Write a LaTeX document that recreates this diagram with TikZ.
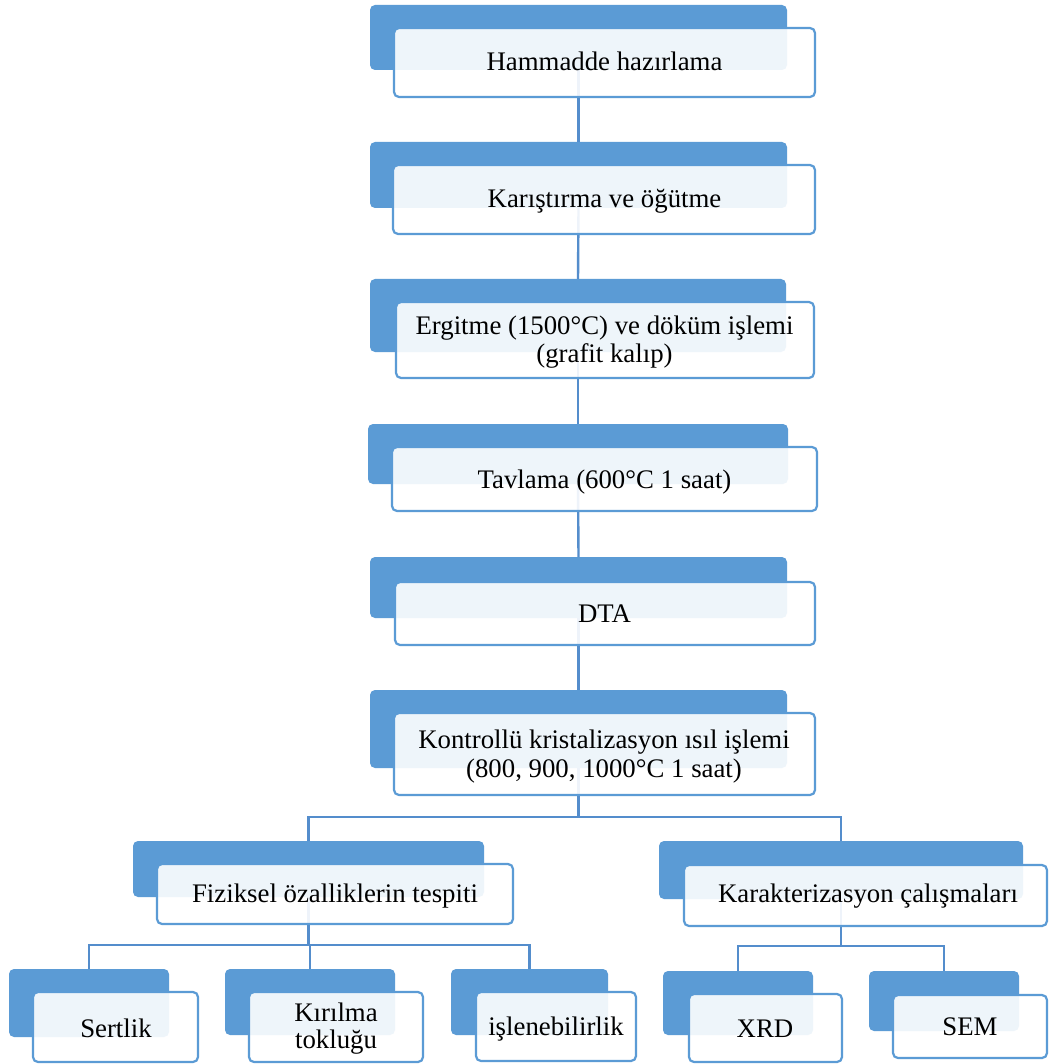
\documentclass[tikz,border=0pt]{standalone}
\usepackage{fontspec}
\setmainfont{Liberation Serif}
\usetikzlibrary{fit}
\definecolor{backblue}{RGB}{91,155,213}
\definecolor{edgeblue}{RGB}{91,155,213}
\definecolor{linkblue}{RGB}{84,141,204}
\tikzset{
  backbox/.style={fill=backblue, draw=none, rounded corners=5pt, inner sep=0pt, outer sep=0pt},
  frontbox/.style={draw=edgeblue, line width=2.2pt, fill=white, fill opacity=0.9, rounded corners=5pt, inner sep=0pt, outer sep=0pt},
  link/.style={draw=linkblue, line width=2.4pt},
  lbl/.style={anchor=base, inner sep=0pt, font=\fontsize{26.8}{30}\selectfont, text=black}
}
\begin{document}
\begin{tikzpicture}[x=1pt,y=-1pt]
\useasboundingbox (0,0) rectangle (1048,1064);
\fill[white] (0,0) rectangle (1048,1064);
% back boxes
\node[backbox, fit={(370,5)(787,70)}] (b1) {};
\node[backbox, fit={(370,142)(787,208)}] (b2) {};
\node[backbox, fit={(370,279)(786,352)}] (b3) {};
\node[backbox, fit={(368,424)(788,484)}] (b4) {};
\node[backbox, fit={(370,557)(787,618)}] (b5) {};
\node[backbox, fit={(370,690)(787,768)}] (b6) {};
\node[backbox, fit={(133,841)(484,897)}] (b7) {};
\node[backbox, fit={(659,841)(1023,899)}] (b8) {};
\node[backbox, fit={(9,969)(169,1037)}] (b9) {};
\node[backbox, fit={(225,969)(395,1035)}] (b10) {};
\node[backbox, fit={(451,969)(608,1035)}] (b11) {};
\node[backbox, fit={(663,971)(813,1035)}] (b12) {};
\node[backbox, fit={(869,971)(1019,1031)}] (b13) {};
% connectors
\draw[link] (b1.south) -- (b2.north);
\draw[link] (b2.south) -- (b3.north);
\draw[link] (b3.south) -- (b4.north);
\draw[link] (b4.south) -- (b5.north);
\draw[link] (b5.south) -- (b6.north);
\draw[link] (b6.south) -- ++(0,49) -| (b7.north);
\draw[link] (b6.south) -- ++(0,49) -| (b8.north);
\draw[link] (b7.south) -- ++(0,48) -| (b9.north);
\draw[link] (b7.south) -- ++(0,48) -| (b10.north);
\draw[link] (b7.south) -- ++(0,48) -| (b11.north);
\draw[link] (b8.south) -- ++(0,47) -| (b12.north);
\draw[link] (b8.south) -- ++(0,47) -| (b13.north);
% front boxes
\node[frontbox, fit={(394,28)(815,97)}] (f1) {};
\node[frontbox, fit={(393,165)(815,234)}] (f2) {};
\node[frontbox, fit={(396,302)(814,378)}] (f3) {};
\node[frontbox, fit={(392,447)(817,511)}] (f4) {};
\node[frontbox, fit={(395,582)(815,645)}] (f5) {};
\node[frontbox, fit={(394,713)(815,795)}] (f6) {};
\node[frontbox, fit={(157,864)(513,924)}] (f7) {};
\node[frontbox, fit={(684,865)(1047,926)}] (f8) {};
\node[frontbox, fit={(33,992)(198,1062)}] (f9) {};
\node[frontbox, fit={(249,992)(423,1062)}] (f10) {};
\node[frontbox, fit={(476,992)(636,1061)}] (f11) {};
\node[frontbox, fit={(689,994)(842,1062)}] (f12) {};
\node[frontbox, fit={(893,995)(1047,1058)}] (f13) {};
% texts
\node[lbl] (t1) at (604.5,71) {Hammadde hazırlama};
\node[lbl] (t2) at (604.5,208) {Karıştırma ve öğütme};
\node[lbl] (t3a) at (604.5,334) {Ergitme (1500°C) ve döküm işlemi};
\node[lbl] (t3b) at (604.5,362) {(grafit kalıp)};
\node[lbl] (t4) at (604.5,488) {Tavlama (600°C 1 saat)};
\node[lbl] (t5) at (604.5,622) {DTA};
\node[lbl] (t6a) at (604,748) {Kontrollü kristalizasyon ısıl işlemi};
\node[lbl] (t6b) at (604,777) {(800, 900, 1000°C 1 saat)};
\node[lbl] (t7) at (335,902) {Fiziksel özalliklerin tespiti};
\node[lbl] (t8) at (868,902) {Karakterizasyon çalışmaları};
\node[lbl] (t9) at (116,1037) {Sertlik};
\node[lbl] (t10a) at (336,1021) {Kırılma};
\node[lbl] (t10b) at (336,1048) {tokluğu};
\node[lbl] (t11) at (556,1035) {işlenebilirlik};
\node[lbl] (t12) at (765,1037) {XRD};
\node[lbl] (t13) at (970,1035) {SEM};
\end{tikzpicture}
\end{document}
